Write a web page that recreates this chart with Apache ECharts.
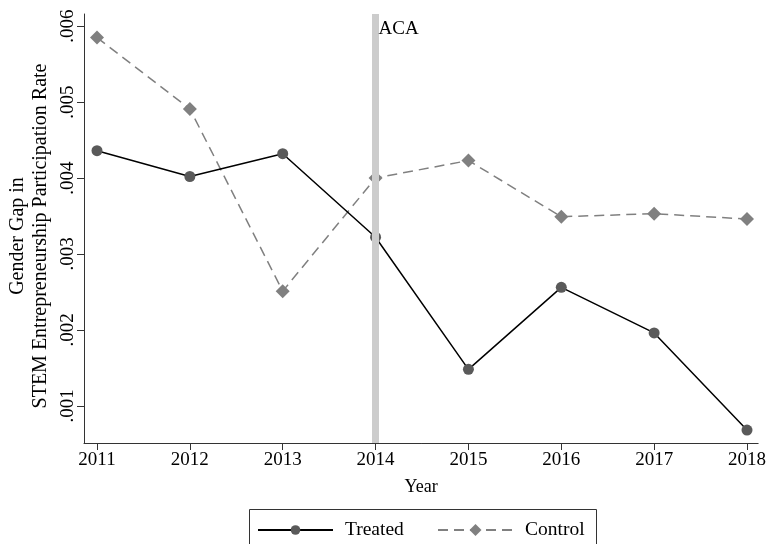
<!DOCTYPE html>
<html>
<head>
<meta charset="utf-8">
<script src="https://cdn.jsdelivr.net/npm/echarts@6/dist/echarts.min.js"></script>
<style>
  html, body { margin: 0; padding: 0; background: #fff; }
  #chart { width: 769px; height: 544px; }
</style>
</head>
<body>
<div id="chart"></div>
<script>
// Gender gap in STEM entrepreneurship participation, treated vs. control states
const years = [2011, 2012, 2013, 2014, 2015, 2016, 2017, 2018];
const treated = [0.00436, 0.00402, 0.00432, 0.00322, 0.00148, 0.00256, 0.00196, 0.00068];
const control = [0.00585, 0.00491, 0.00251, 0.00400, 0.00423, 0.00349, 0.00353, 0.00346];
const yTicks = [0.001, 0.002, 0.003, 0.004, 0.005, 0.006];
const acaYear = 2014;
const acaLabel = 'ACA';

const FONT = 'Liberation Serif';
const AXIS_COLOR = '#333';

const chart = echarts.init(document.getElementById('chart'), null, { renderer: 'canvas' });

const pairs = (vals) => years.map((y, i) => [y, vals[i]]);

const legendText = { fontFamily: FONT, fontSize: 19.5, lineHeight: 20, color: '#000', padding: [0, 0, 0, 7] };

chart.setOption({
  animation: false,
  backgroundColor: '#fff',
  textStyle: { fontFamily: FONT, color: '#000' },
  grid: { left: 84, right: 8, top: 14, bottom: 101, containLabel: false },
  xAxis: {
    type: 'value',
    min: 2010.86,
    max: 2018.12,
    name: 'Year',
    nameLocation: 'middle',
    nameGap: 35,
    nameTextStyle: { fontFamily: FONT, fontSize: 18, color: '#000' },
    splitLine: { show: false },
    axisLine: { show: true, lineStyle: { color: AXIS_COLOR, width: 1 } },
    axisTick: { show: true, length: 7, customValues: years, lineStyle: { color: AXIS_COLOR } },
    axisLabel: {
      customValues: years,
      margin: 8,
      fontFamily: FONT, fontSize: 19, color: '#000',
      formatter: (v) => String(Math.round(v))
    }
  },
  yAxis: {
    type: 'value',
    min: 0.00051,
    max: 0.00616,
    splitLine: { show: false },
    axisLine: { show: true, lineStyle: { color: AXIS_COLOR, width: 1 } },
    axisTick: { show: true, length: 7, customValues: yTicks, lineStyle: { color: AXIS_COLOR } },
    axisLabel: {
      customValues: yTicks,
      rotate: 90,
      margin: 6,
      fontFamily: FONT, fontSize: 19, color: '#000',
      formatter: (v) => v.toFixed(3).replace(/^0\./, '.')
    }
  },
  legend: [
    {
      data: ['Treated'],
      left: 257,
      top: 520,
      padding: 0,
      itemWidth: 75,
      itemHeight: 12,
      textStyle: legendText
    },
    {
      data: ['Control'],
      left: 437,
      top: 520,
      padding: 0,
      itemWidth: 75,
      itemHeight: 15,
      textStyle: legendText
    }
  ],
  graphic: [
    {
      // legend frame
      type: 'rect',
      shape: { x: 249.5, y: 509.5, width: 347, height: 50 },
      style: { fill: 'none', stroke: '#333', lineWidth: 1 },
      silent: true
    },
    {
      type: 'text',
      x: 29,
      y: 236,
      rotation: Math.PI / 2,
      style: {
        text: 'Gender Gap in\nSTEM Entrepreneurship Participation Rate',
        font: '20px "' + FONT + '"',
        fill: '#000',
        align: 'center',
        verticalAlign: 'middle',
        lineHeight: 23
      }
    }
  ],
  series: [
    {
      // policy marker: vertical band with its label
      name: acaLabel,
      type: 'line',
      data: [],
      z: 1,
      silent: true,
      markLine: {
        silent: true,
        symbol: ['none', 'none'],
        label: { show: false },
        lineStyle: { color: '#cccccc', width: 7, type: 'solid' },
        data: [{ xAxis: acaYear }]
      },
      markPoint: {
        silent: true,
        symbol: 'circle',
        symbolSize: 0,
        label: {
          show: true,
          position: 'right',
          distance: 3,
          offset: [0, 15],
          formatter: acaLabel,
          fontFamily: FONT, fontSize: 19, color: '#000'
        },
        data: [{ coord: [acaYear, 0.00616] }]
      }
    },
    {
      name: 'Treated',
      type: 'line',
      z: 3,
      data: pairs(treated),
      symbol: 'circle',
      symbolSize: 11,
      itemStyle: { color: '#5a5a5a' },
      lineStyle: { color: '#000', width: 1.5, type: 'solid' }
    },
    {
      name: 'Control',
      type: 'line',
      z: 2,
      data: pairs(control),
      symbol: 'diamond',
      symbolSize: 14,
      itemStyle: { color: '#808080' },
      lineStyle: { color: '#808080', width: 1.5, type: [10, 6] }
    }
  ]
});
</script>
</body>
</html>
